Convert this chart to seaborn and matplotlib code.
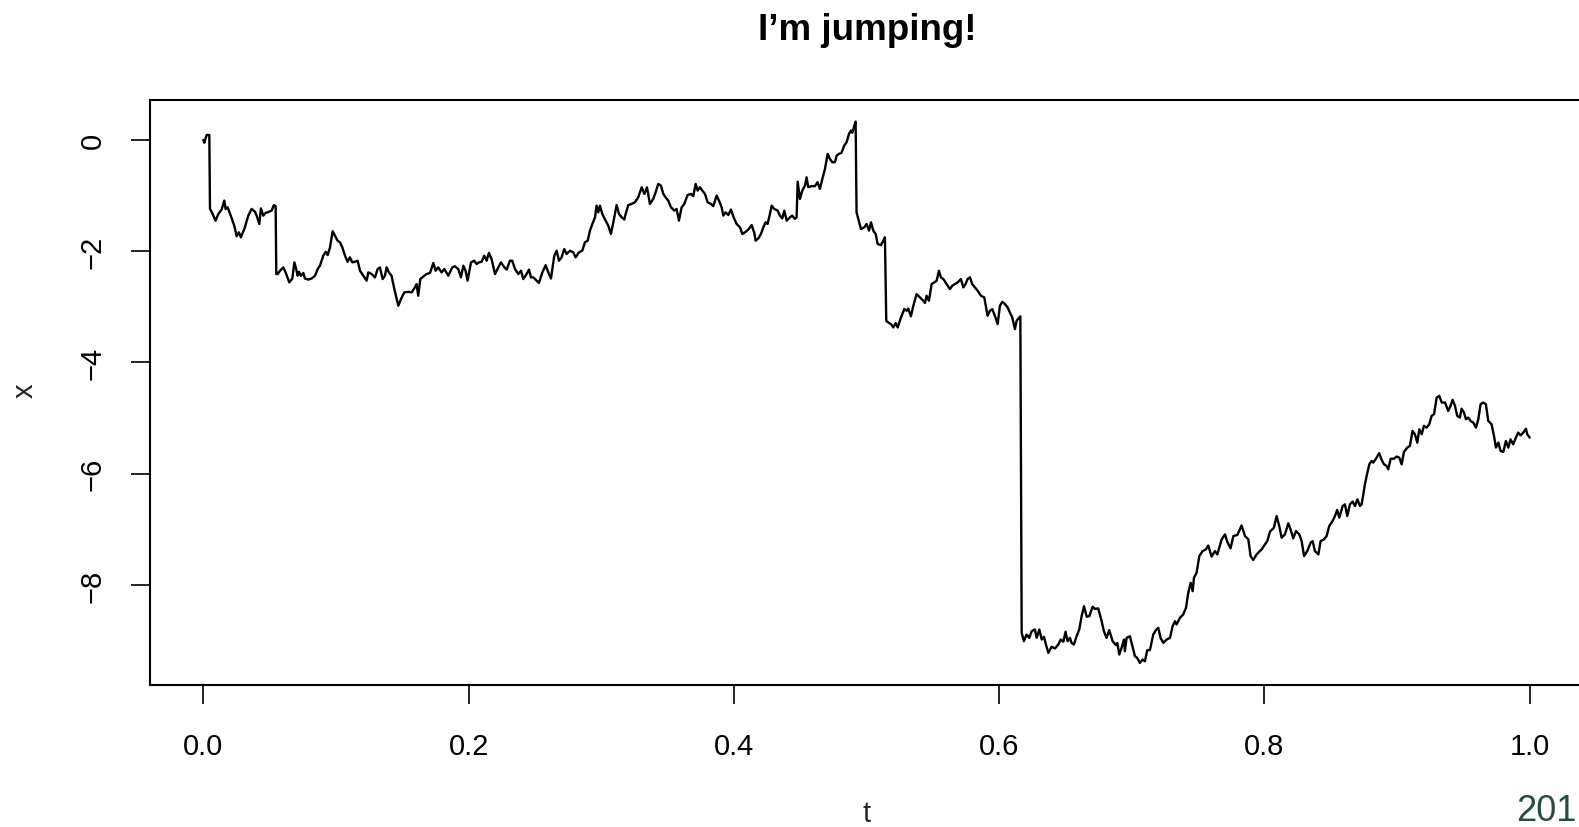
import matplotlib
matplotlib.use("Agg")
import matplotlib.pyplot as plt
import seaborn as sns
import pandas as pd

# ---- data (t, x) ----
t_vals = [
    0.0000, 0.0007, 0.0025, 0.0045, 0.0050,
    0.0062, 0.0092, 0.0113, 0.0138, 0.0158, 0.0168, 0.0183, 0.0208, 0.0233, 0.0251,
    0.0268, 0.0283, 0.0309, 0.0339, 0.0364, 0.0389, 0.0402, 0.0422, 0.0434, 0.0452,
    0.0469, 0.0485, 0.0515, 0.0532, 0.0545, 0.0550, 0.0560, 0.0578, 0.0603, 0.0620,
    0.0648, 0.0671, 0.0686, 0.0699, 0.0711, 0.0721, 0.0736, 0.0754, 0.0766, 0.0791,
    0.0816, 0.0842, 0.0862, 0.0879, 0.0904, 0.0924, 0.0937, 0.0955, 0.0975, 0.0992,
    0.1012, 0.1030, 0.1048, 0.1068, 0.1088, 0.1105, 0.1123, 0.1143, 0.1163, 0.1181,
    0.1206, 0.1231, 0.1244, 0.1269, 0.1294, 0.1314, 0.1331, 0.1352, 0.1369, 0.1382,
    0.1399, 0.1419, 0.1440, 0.1470, 0.1490, 0.1515, 0.1545, 0.1571, 0.1595, 0.1608,
    0.1620, 0.1636, 0.1666,
    0.1683, 0.1709, 0.1734, 0.1751, 0.1771, 0.1796, 0.1817, 0.1847, 0.1877, 0.1897,
    0.1922, 0.1942, 0.1960, 0.1977, 0.1992, 0.2018, 0.2043, 0.2060, 0.2078, 0.2098,
    0.2118, 0.2136, 0.2153, 0.2173, 0.2199, 0.2224, 0.2244, 0.2269, 0.2287, 0.2312,
    0.2329, 0.2350, 0.2375, 0.2395, 0.2412, 0.2437, 0.2455, 0.2470, 0.2488, 0.2505,
    0.2530, 0.2556, 0.2581, 0.2601, 0.2621, 0.2646, 0.2664, 0.2681, 0.2701, 0.2721,
    0.2739, 0.2764, 0.2789, 0.2807, 0.2832, 0.2857, 0.2877, 0.2898, 0.2915, 0.2933,
    0.2953, 0.2965, 0.2978, 0.2990, 0.3008, 0.3033, 0.3053, 0.3073, 0.3091, 0.3116,
    0.3134, 0.3154, 0.3174, 0.3184, 0.3204, 0.3229, 0.3254,
    0.3279, 0.3305, 0.3325, 0.3345, 0.3367, 0.3392, 0.3410, 0.3430, 0.3450, 0.3468,
    0.3485, 0.3505, 0.3526, 0.3551, 0.3568, 0.3586, 0.3606, 0.3626, 0.3651, 0.3677,
    0.3694, 0.3712, 0.3727, 0.3744, 0.3762, 0.3782, 0.3802, 0.3827, 0.3845, 0.3870,
    0.3888, 0.3908, 0.3920, 0.3938, 0.3958, 0.3978, 0.3998, 0.4021, 0.4046, 0.4064,
    0.4084, 0.4109, 0.4134, 0.4154, 0.4164, 0.4184, 0.4204, 0.4222, 0.4239, 0.4254,
    0.4272, 0.4285, 0.4305, 0.4330, 0.4347, 0.4365, 0.4380, 0.4398, 0.4423, 0.4440,
    0.4460, 0.4473, 0.4481, 0.4498, 0.4516, 0.4536, 0.4548, 0.4561, 0.4586, 0.4611,
    0.4631, 0.4649, 0.4667, 0.4687, 0.4707, 0.4724, 0.4742, 0.4762, 0.4775, 0.4792,
    0.4812, 0.4832, 0.4850, 0.4868, 0.4883, 0.4893, 0.4905, 0.4918, 0.4925,
    0.4938, 0.4958, 0.4983, 0.5001, 0.5019, 0.5034, 0.5051, 0.5069, 0.5084, 0.5109,
    0.5127, 0.5139, 0.5149, 0.5164, 0.5185, 0.5202, 0.5220, 0.5235, 0.5260, 0.5285,
    0.5303, 0.5315, 0.5335, 0.5353, 0.5378, 0.5403, 0.5428, 0.5441, 0.5453, 0.5471,
    0.5491, 0.5511, 0.5529, 0.5546, 0.5561, 0.5579, 0.5604, 0.5629, 0.5647, 0.5667,
    0.5687, 0.5712, 0.5730, 0.5747, 0.5762, 0.5780, 0.5797, 0.5818, 0.5838, 0.5863,
    0.5888, 0.5913, 0.5931, 0.5948, 0.5968, 0.5989, 0.6006, 0.6024, 0.6044, 0.6064,
    0.6081, 0.6099, 0.6119, 0.6132, 0.6160,
    0.6170, 0.6187, 0.6207, 0.6227, 0.6245, 0.6270, 0.6283, 0.6303, 0.6321, 0.6338,
    0.6353, 0.6371, 0.6396, 0.6421, 0.6446, 0.6464, 0.6484, 0.6501, 0.6516, 0.6534,
    0.6546, 0.6564, 0.6584, 0.6604, 0.6622, 0.6640, 0.6660, 0.6680, 0.6705, 0.6723,
    0.6747, 0.6773, 0.6790, 0.6810, 0.6830, 0.6856, 0.6881, 0.6891, 0.6906, 0.6923,
    0.6941, 0.6948, 0.6961, 0.6986, 0.7006, 0.7024, 0.7041, 0.7061, 0.7082, 0.7099,
    0.7117, 0.7137, 0.7162, 0.7182, 0.7200, 0.7217, 0.7238, 0.7263, 0.7288, 0.7308,
    0.7326, 0.7338, 0.7363, 0.7388, 0.7409, 0.7426, 0.7444, 0.7459, 0.7469, 0.7489,
    0.7509, 0.7534, 0.7559, 0.7577, 0.7602, 0.7627, 0.7645, 0.7678, 0.7703, 0.7720,
    0.7745, 0.7766, 0.7796, 0.7828, 0.7854, 0.7879, 0.7896, 0.7916, 0.7941, 0.7979,
    0.8004, 0.8022, 0.8042, 0.8072, 0.8092, 0.8112, 0.8130, 0.8155, 0.8180, 0.8193,
    0.8218, 0.8238, 0.8263, 0.8281, 0.8299, 0.8323, 0.8349, 0.8364, 0.8381, 0.8407,
    0.8424, 0.8449, 0.8469, 0.8489, 0.8514, 0.8532, 0.8549, 0.8565, 0.8590, 0.8607,
    0.8625, 0.8645, 0.8665, 0.8683, 0.8701, 0.8721, 0.8733, 0.8746, 0.8758, 0.8771,
    0.8791, 0.8808, 0.8821, 0.8841, 0.8866, 0.8884, 0.8902, 0.8921, 0.8934, 0.8952,
    0.8977, 0.8997, 0.9017, 0.9035, 0.9052, 0.9077, 0.9097, 0.9117, 0.9135, 0.9153,
    0.9168, 0.9186, 0.9203, 0.9223, 0.9243, 0.9261, 0.9279, 0.9299, 0.9319, 0.9337,
    0.9362, 0.9386, 0.9404, 0.9419, 0.9437, 0.9454, 0.9474, 0.9487, 0.9505, 0.9520,
    0.9537, 0.9555, 0.9575, 0.9595, 0.9613, 0.9630, 0.9650, 0.9670, 0.9688, 0.9713,
    0.9731, 0.9746, 0.9764, 0.9781, 0.9801, 0.9821, 0.9839, 0.9856, 0.9876, 0.9896,
    0.9914, 0.9932, 0.9952, 0.9972, 0.9982, 1.0000,
]
x_vals = [
    0.00, -0.05, 0.09, 0.09, -1.24,
    -1.29, -1.45, -1.33, -1.25, -1.09, -1.24, -1.21, -1.37, -1.54, -1.73,
    -1.66, -1.75, -1.60, -1.36, -1.24, -1.29, -1.36, -1.51, -1.23, -1.36,
    -1.31, -1.30, -1.27, -1.17, -1.19, -2.41, -2.41, -2.35, -2.29, -2.38,
    -2.56, -2.49, -2.20, -2.31, -2.44, -2.37, -2.44, -2.39, -2.49, -2.51,
    -2.49, -2.44, -2.32, -2.26, -2.08, -2.01, -2.07, -1.93, -1.64, -1.72,
    -1.81, -1.84, -1.93, -2.08, -2.19, -2.11, -2.20, -2.19, -2.17, -2.35,
    -2.44, -2.53, -2.38, -2.41, -2.47, -2.32, -2.29, -2.50, -2.44, -2.29,
    -2.38, -2.44, -2.68, -2.98, -2.86, -2.74, -2.73, -2.74, -2.65, -2.59,
    -2.80, -2.50, -2.44,
    -2.41, -2.39, -2.21, -2.35, -2.29, -2.38, -2.32, -2.44, -2.29, -2.27,
    -2.32, -2.47, -2.26, -2.35, -2.53, -2.20, -2.17, -2.23, -2.20, -2.19,
    -2.08, -2.17, -2.03, -2.14, -2.41, -2.29, -2.20, -2.29, -2.33, -2.17,
    -2.17, -2.32, -2.41, -2.35, -2.50, -2.41, -2.33, -2.47, -2.47, -2.51,
    -2.57, -2.38, -2.25, -2.38, -2.49, -2.08, -1.99, -2.17, -2.11, -1.96,
    -2.05, -1.99, -2.02, -2.11, -2.02, -1.99, -1.84, -1.81, -1.63, -1.51,
    -1.39, -1.18, -1.30, -1.18, -1.33, -1.45, -1.54, -1.69, -1.48, -1.17,
    -1.33, -1.39, -1.43, -1.33, -1.17, -1.15, -1.12,
    -1.03, -0.85, -0.97, -0.85, -1.15, -1.06, -0.94, -0.79, -0.82, -0.97,
    -1.03, -1.09, -1.21, -1.27, -1.24, -1.45, -1.21, -1.15, -0.99, -0.97,
    -1.01, -0.79, -0.91, -0.85, -0.91, -0.97, -1.12, -1.15, -1.19, -1.00,
    -1.09, -1.21, -1.36, -1.30, -1.35, -1.25, -1.39, -1.51, -1.57, -1.69,
    -1.66, -1.61, -1.53, -1.67, -1.81, -1.77, -1.69, -1.57, -1.48, -1.51,
    -1.33, -1.18, -1.24, -1.27, -1.36, -1.41, -1.27, -1.45, -1.39, -1.36,
    -1.42, -1.39, -0.75, -1.06, -0.91, -0.82, -0.67, -0.85, -0.83, -0.83,
    -0.76, -0.88, -0.70, -0.52, -0.25, -0.34, -0.40, -0.40, -0.28, -0.25,
    -0.23, -0.10, -0.04, 0.11, 0.17, 0.13, 0.23, 0.33, -1.30,
    -1.42, -1.60, -1.57, -1.51, -1.63, -1.48, -1.63, -1.69, -1.87, -1.89,
    -1.81, -1.75, -3.25, -3.28, -3.31, -3.37, -3.29, -3.37, -3.19, -3.04,
    -3.07, -3.03, -3.17, -2.98, -2.77, -2.83, -2.89, -2.93, -2.80, -2.89,
    -2.59, -2.56, -2.53, -2.35, -2.47, -2.50, -2.59, -2.68, -2.62, -2.59,
    -2.56, -2.50, -2.65, -2.59, -2.50, -2.47, -2.59, -2.65, -2.71, -2.80,
    -2.83, -3.16, -3.07, -3.04, -3.16, -3.31, -2.98, -2.91, -2.95, -3.01,
    -3.10, -3.19, -3.40, -3.25, -3.17,
    -8.86, -9.01, -8.89, -8.95, -8.83, -8.80, -8.95, -8.80, -8.98, -8.93,
    -9.07, -9.22, -9.11, -9.14, -9.07, -8.98, -9.02, -8.84, -9.01, -8.95,
    -9.04, -9.07, -8.92, -8.80, -8.56, -8.38, -8.57, -8.56, -8.39, -8.43,
    -8.42, -8.65, -8.83, -8.95, -8.81, -9.01, -9.08, -9.04, -9.25, -9.13,
    -8.98, -9.19, -8.95, -8.92, -9.11, -9.28, -9.31, -9.40, -9.34, -9.37,
    -9.17, -9.17, -8.89, -8.81, -8.77, -8.95, -9.04, -8.98, -8.95, -8.74,
    -8.65, -8.71, -8.59, -8.53, -8.41, -8.14, -7.96, -8.11, -7.87, -7.78,
    -7.48, -7.39, -7.36, -7.29, -7.49, -7.39, -7.45, -7.18, -7.09, -7.22,
    -7.34, -7.12, -7.10, -6.93, -7.12, -7.18, -7.48, -7.55, -7.45, -7.36,
    -7.27, -7.21, -7.04, -6.97, -6.76, -6.94, -7.15, -7.09, -6.89, -6.97,
    -7.16, -7.03, -7.09, -7.21, -7.48, -7.39, -7.24, -7.21, -7.39, -7.45,
    -7.21, -7.18, -7.12, -6.94, -6.85, -6.76, -6.65, -6.79, -6.58, -6.55,
    -6.76, -6.55, -6.50, -6.58, -6.46, -6.58, -6.55, -6.37, -6.19, -6.04,
    -5.83, -5.77, -5.80, -5.73, -5.63, -5.75, -5.83, -5.86, -5.92, -5.73,
    -5.73, -5.69, -5.71, -5.83, -5.61, -5.53, -5.50, -5.23, -5.29, -5.44,
    -5.20, -5.29, -5.14, -5.17, -5.11, -4.96, -4.93, -4.63, -4.60, -4.72,
    -4.72, -4.87, -4.78, -4.67, -4.78, -4.96, -4.99, -4.83, -4.90, -5.02,
    -4.99, -5.05, -5.08, -5.17, -5.02, -4.75, -4.72, -4.75, -5.05, -5.11,
    -5.32, -5.53, -5.44, -5.59, -5.61, -5.41, -5.53, -5.38, -5.47, -5.35,
    -5.26, -5.31, -5.26, -5.19, -5.29, -5.35,
]
x_ticks = [0.0, 0.2, 0.4, 0.6, 0.8, 1.0]
x_ticklabels = ["0.0", "0.2", "0.4", "0.6", "0.8", "1.0"]
y_ticks = [0, -2, -4, -6, -8]
y_ticklabels = ["0", "\u22122", "\u22124", "\u22126", "\u22128"]
title = "I\u2019m jumping!"
corner_text = "201"

df = pd.DataFrame({"t": t_vals, "x": x_vals})

sns.set_theme(style="ticks")
plt.rcParams["font.family"] = ["Liberation Sans", "DejaVu Sans"]

W, H = 1579, 828
fig = plt.figure(figsize=(W / 100, H / 100), dpi=100)
fig.patch.set_facecolor("white")

left, right_px, top, bottom = 150.3, 150.3 + 1432.4, 100.7, 685.6
ax = fig.add_axes([left / W, (H - bottom) / H, (right_px - left) / W, (bottom - top) / H])
ax.set_facecolor("white")

sns.lineplot(data=df, x="t", y="x", sort=False, estimator=None,
             color="black", linewidth=1.7, ax=ax)

ax.set_xlim(-0.04, 1.04)
ax.set_ylim(-9.79, 0.724)
ax.set_xticks(x_ticks)
ax.set_xticklabels(x_ticklabels)
ax.set_yticks(y_ticks)
ax.set_yticklabels(y_ticklabels)

for s in ax.spines.values():
    s.set_visible(True)
    s.set_linewidth(1.5)
    s.set_color("black")

ax.tick_params(axis="both", which="major", length=13.5, width=1.2, color="black",
               labelsize=21, labelcolor="black")
ax.tick_params(axis="x", pad=20.5)
ax.tick_params(axis="y", pad=18)
for lab in ax.get_yticklabels():
    lab.set_rotation(90)
    lab.set_va("center")
    lab.set_ha("right")

ax.set_xlabel("t", fontsize=21)
ax.xaxis.set_label_coords(0.5, (bottom - 822) / (bottom - top))
ax.xaxis.label.set_va("baseline")
ax.set_ylabel("x", fontsize=21)
ax.yaxis.set_label_coords((25 - left) / (right_px - left), (bottom - 391) / (bottom - top))
ax.yaxis.label.set_va("center")

fig.text(867 / W, 1 - 30 / H, title, ha="center", va="center",
         fontsize=26.5, fontweight="bold", color="black")
fig.text(1577 / W, 1 - 821 / H, corner_text, ha="right", va="baseline",
         fontsize=26, color="#2b4a40")

fig.savefig("out.png", dpi=100, facecolor="white")
